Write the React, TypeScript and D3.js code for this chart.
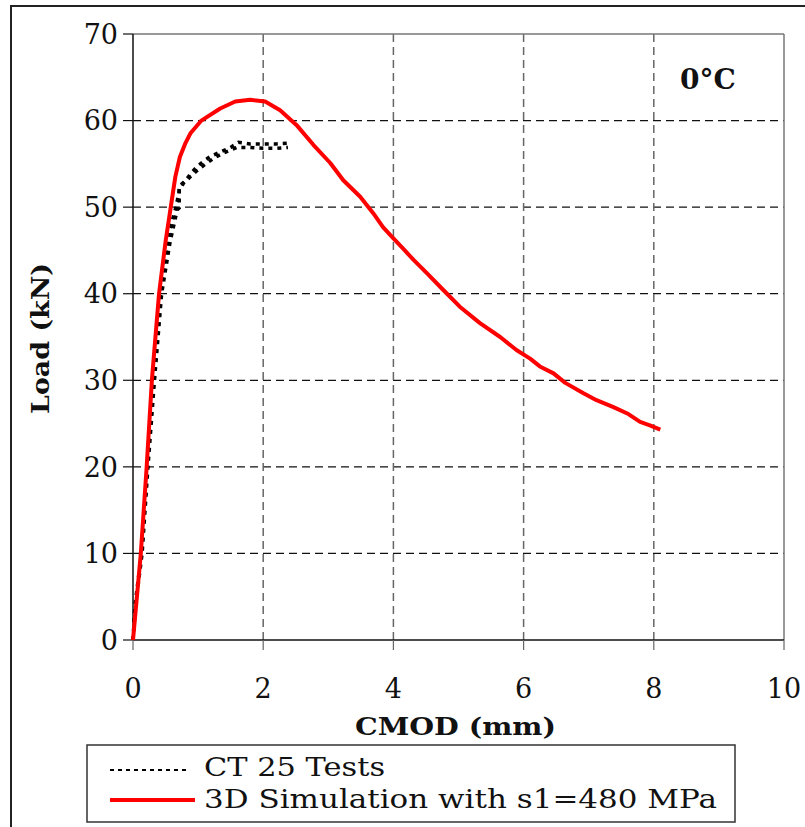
import React from "react";
import * as d3 from "d3";

const xTicks = [0, 2, 4, 6, 8, 10];
const yTicks = [0, 10, 20, 30, 40, 50, 60, 70];

const simX = [0, 0.06, 0.12, 0.21, 0.29, 0.4, 0.5, 0.58, 0.65, 0.72, 0.8, 0.88, 1.05, 1.34, 1.57, 1.8, 2.03, 2.26, 2.51, 2.77, 3.03, 3.23, 3.49, 3.69, 3.84, 4.0, 4.15, 4.31, 4.51, 4.77, 5.02, 5.33, 5.64, 5.89, 6.1, 6.25, 6.46, 6.64, 6.92, 7.12, 7.38, 7.61, 7.79, 7.94, 8.1];
const simY = [0, 5, 10, 20, 30, 40, 46, 50, 53.5, 55.8, 57.3, 58.5, 60, 61.4, 62.2, 62.4, 62.2, 61.2, 59.5, 57.2, 55.1, 53.1, 51.2, 49.3, 47.7, 46.4, 45.2, 43.9, 42.4, 40.4, 38.5, 36.6, 35.0, 33.5, 32.5, 31.6, 30.8, 29.7, 28.5, 27.7, 26.9, 26.1, 25.2, 24.8, 24.3];

const testAX = [0, 0.03, 0.13, 0.22, 0.31, 0.42, 0.55, 0.66, 0.7, 0.72, 0.8, 0.9, 1.0, 1.1, 1.2, 1.35, 1.5, 1.62, 1.8, 2.0, 2.2, 2.41];
const testAY = [0, 4, 10, 20, 30, 40, 47, 50, 51.5, 52.5, 53, 54, 54.8, 55.4, 55.9, 56.4, 56.9, 57.5, 57.3, 57.3, 57.3, 57.4];
const testBX = [0, 0.04, 0.14, 0.23, 0.33, 0.44, 0.57, 0.68, 0.71, 0.71, 0.78, 0.88, 0.98, 1.1, 1.25, 1.4, 1.6, 1.8, 2.0, 2.2, 2.38];
const testBY = [0, 4, 10, 20, 30, 40, 46, 49.7, 49.9, 52, 52.8, 53.5, 54.2, 54.9, 55.7, 56.3, 56.9, 56.9, 56.8, 56.8, 56.9];

const legendLabels = ["CT 25 Tests", "3D Simulation with s1=480 MPa"];

const L = 133, R = 784, T = 34, B = 640;
const SERIF = "'DejaVu Serif', serif";

export default function App() {
  const x = d3.scaleLinear().domain([0, 10]).range([L, R]);
  const y = d3.scaleLinear().domain([0, 70]).range([B, T]);
  const line = d3.line<[number, number]>().x(d => x(d[0])).y(d => y(d[1]));
  const sim = simX.map((v, i) => [v, simY[i]] as [number, number]);
  const ta = testAX.map((v, i) => [v, testAY[i]] as [number, number]);
  const tb = testBX.map((v, i) => [v, testBY[i]] as [number, number]);

  return (
    <svg width={805} height={827} style={{ position: "absolute", left: 0, top: 0, background: "#fff" }}>
      <rect x={11} y={6} width={830} height={850} fill="#fff" stroke="#222" strokeWidth={2} />
      {/* grid */}
      {yTicks.filter(t => t > 0 && t < 70).map(t => (
        <line key={"gy" + t} x1={L} x2={R} y1={y(t)} y2={y(t)} stroke="#111" strokeWidth={1.2} strokeDasharray="8,5" />
      ))}
      {xTicks.filter(t => t > 0 && t < 10).map(t => (
        <line key={"gx" + t} x1={x(t)} x2={x(t)} y1={T} y2={B} stroke="#666" strokeWidth={1.5} strokeDasharray="8,5" />
      ))}
      {/* plot border */}
      <line x1={L} x2={R} y1={T} y2={T} stroke="#777" strokeWidth={1.5} />
      <line x1={R} x2={R} y1={T} y2={B} stroke="#777" strokeWidth={1.5} />
      {/* axes */}
      <line x1={L} x2={L} y1={T} y2={B} stroke="#111" strokeWidth={1.5} />
      <line x1={L} x2={R} y1={B} y2={B} stroke="#111" strokeWidth={1.5} />
      {yTicks.map(t => (
        <g key={"yt" + t}>
          <line x1={L - 10} x2={L} y1={y(t)} y2={y(t)} stroke="#111" strokeWidth={1.2} />
          <text x={L - 15} y={y(t)} dy="0.36em" textAnchor="end" fontFamily={SERIF} fontSize={27} fill="#111">{t}</text>
        </g>
      ))}
      {xTicks.map(t => (
        <g key={"xt" + t}>
          <line x1={x(t)} x2={x(t)} y1={B} y2={B + 10} stroke="#666" strokeWidth={1.2} />
          <text x={x(t)} y={698} textAnchor="middle" fontFamily={SERIF} fontSize={27} fill="#111">{t}</text>
        </g>
      ))}
      {/* axis titles */}
      <text x={355} y={735} textLength={201} lengthAdjust="spacingAndGlyphs" fontFamily={SERIF} fontWeight="bold" fontSize={24} fill="#111">CMOD (mm)</text>
      <text transform="translate(49,414) rotate(-90)" textLength={151} lengthAdjust="spacingAndGlyphs" fontFamily={SERIF} fontWeight="bold" fontSize={24} fill="#111">Load (kN)</text>
      <text x={680} y={89} fontFamily={SERIF} fontWeight="bold" fontSize={28} fill="#111">0°C</text>
      {/* data */}
      <path d={line(ta) || ""} fill="none" stroke="#000" strokeWidth={3.5} strokeDasharray="4,5" />
      <path d={line(tb) || ""} fill="none" stroke="#000" strokeWidth={3.5} strokeDasharray="4,5" />
      <path d={line(sim) || ""} fill="none" stroke="#ff0000" strokeWidth={4} strokeLinejoin="round" />
      {/* legend */}
      <rect x={87} y={745} width={648} height={77} fill="#fff" stroke="#333" strokeWidth={1.5} />
      <line x1={110} x2={186} y1={770} y2={770} stroke="#000" strokeWidth={2} strokeDasharray="4,4" />
      <text x={204} y={776} textLength={181} lengthAdjust="spacingAndGlyphs" fontFamily={SERIF} fontSize={26} fill="#111">{legendLabels[0]}</text>
      <line x1={110} x2={195} y1={800} y2={800} stroke="#ff0000" strokeWidth={4} />
      <text x={204} y={808} textLength={513} lengthAdjust="spacingAndGlyphs" fontFamily={SERIF} fontSize={26} fill="#111">{legendLabels[1]}</text>
    </svg>
  );
}
